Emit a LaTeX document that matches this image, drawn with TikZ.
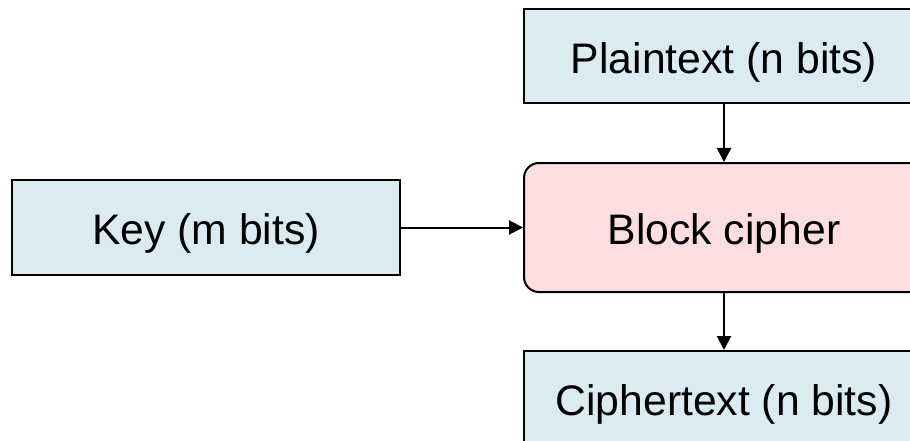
\documentclass[tikz,border=0pt]{standalone}
\usepackage{fontspec}
\setmainfont{Liberation Sans}
\usetikzlibrary{arrows.meta}
\definecolor{boxblue}{RGB}{218,236,242}
\definecolor{boxpink}{RGB}{253,222,224}
\tikzset{
  boxtext/.style={font=\fontsize{42.7}{50}\selectfont, text height=40pt, text depth=6pt, inner sep=0pt},
  databox/.style={boxtext, draw=black, line width=2pt, fill=boxblue, rectangle, minimum width=400pt, minimum height=94pt},
  cipherbox/.style={boxtext, draw=black, line width=2pt, fill=boxpink, rectangle, rounded corners=15pt, minimum width=400pt, minimum height=129pt},
  flow/.style={draw=black, line width=2pt, -{Triangle[length=14pt,width=14pt]}}
}
\begin{document}
\begin{tikzpicture}[x=1pt,y=-1pt]
\useasboundingbox (0,0) rectangle (910,441);
\clip (0,0) rectangle (910,441);
\node[databox] (plain) at (724,56.5) {Plaintext (n bits)};
\node[cipherbox] (block) at (724,227.5) {Block cipher};
\node[databox] (cipher) at (724,398) {Ciphertext (n bits)};
\node[databox, minimum width=388pt, minimum height=95pt] (key) at (206,227.5) {Key (m bits)};
\draw[flow] (plain.south) -- (block.north);
\draw[flow] (block.south) -- (cipher.north);
\draw[flow] (key.east) -- (block.west);
\end{tikzpicture}
\end{document}
